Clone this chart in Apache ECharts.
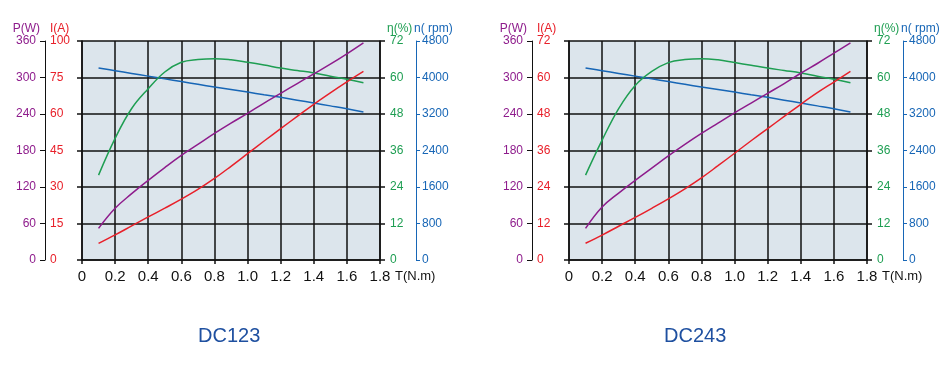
<!DOCTYPE html>
<html><head><meta charset="utf-8">
<script src="https://cdn.jsdelivr.net/npm/echarts@6/dist/echarts.min.js"></script>
<style>html,body{margin:0;padding:0;background:#fff}#c{width:950px;height:388px}</style>
</head><body><div id="c"></div>
<script>
// ---- data ----
const titles = ['DC123', 'DC243'];
const xName = 'T(N.m)';
const torque = [0.1, 0.2, 0.3, 0.4, 0.5, 0.6, 0.7, 0.8, 0.9, 1.0, 1.1, 1.2, 1.3, 1.4, 1.5, 1.6, 1.7];
const xLabels = ['0', '0.2', '0.4', '0.6', '0.8', '1.0', '1.2', '1.4', '1.6', '1.8'];
const pLabels = ['0', '60', '120', '180', '240', '300', '360'];
const etaLabels = ['0', '12', '24', '36', '48', '60', '72'];
const nLabels = ['0', '800', '1600', '2400', '3200', '4000', '4800'];
const iLabelsA = ['0', '15', '30', '45', '60', '75', '100'];
const iLabelsB = ['0', '12', '24', '36', '48', '60', '72'];

// DC123
const powerA = [52, 85, 109, 131, 152, 172, 190, 208, 225, 241, 258, 274, 290, 306, 322, 339, 357];
const currentA = [6.8, 10.3, 14.0, 17.7, 21.3, 25.0, 29.0, 33.5, 38.5, 43.7, 48.9, 54.0, 59.0, 64.0, 68.7, 73.2, 77.5];
const effA = [27.9, 40.0, 49.8, 56.3, 61.8, 65.0, 65.9, 66.2, 65.8, 65.0, 64.1, 63.1, 62.3, 61.5, 60.4, 59.4, 58.3];
const speedA = [4210, 4150, 4090, 4030, 3970, 3910, 3850, 3790, 3735, 3680, 3622, 3565, 3503, 3440, 3378, 3315, 3246];
// DC243
const powerB = [52, 87, 110, 131, 151, 171, 190, 208, 225, 242, 258, 274, 290, 307, 323, 340, 357];
const currentB = [5.5, 8.2, 11.1, 14.0, 17.0, 20.1, 23.4, 27.0, 31.0, 35.1, 39.2, 43.2, 47.2, 51.2, 55.0, 58.5, 62.0];
const effB = [27.9, 39.4, 49.8, 57.4, 62.0, 64.9, 65.9, 66.2, 65.8, 64.9, 64.0, 63.1, 62.3, 61.5, 60.4, 59.4, 58.3];
const speedB = [4210, 4150, 4090, 4030, 3970, 3910, 3850, 3790, 3735, 3680, 3622, 3565, 3503, 3440, 3378, 3315, 3246];

// ---- styles ----
const FONT = "'Liberation Sans', Arial, Helvetica, sans-serif";
const BLACK = '#111';
const PURPLE = '#8e1c8c';
const RED = '#e8202a';
const GREEN = '#1e9e52';
const BLUE = '#1766b6';
const TITLE = '#1f50a0';

const charts = [
  {left: 82, iLabels: iLabelsA, iMax: 90, iStep: 15, P: powerA, I: currentA, E: effA, N: speedA},
  {left: 569, iLabels: iLabelsB, iMax: 72, iStep: 12, P: powerB, I: currentB, E: effB, N: speedB}
];

const grid = [], xAxis = [], yAxis = [], series = [], title = [], graphic = [];
charts.forEach((c, k) => {
  grid.push({left: c.left, top: 41, width: 298, height: 219, show: true,
    backgroundColor: '#dce5ec', borderWidth: 0});
  const lineBlack = {color: BLACK, width: 1.5};
  xAxis.push({
    gridIndex: k, type: 'value', min: 0, max: 1.8, interval: 0.2,
    axisLine: {show: true, lineStyle: lineBlack},
    axisTick: {show: true, length: 4, lineStyle: lineBlack},
    axisLabel: {color: BLACK, fontSize: 15, margin: 9, fontFamily: FONT,
      formatter: v => xLabels[Math.round(v / 0.2)]},
    splitLine: {show: true, lineStyle: lineBlack}
  });
  graphic.push({type: 'text', left: c.left + 313, top: 270,
    style: {text: xName, fill: BLACK, font: '13px ' + FONT}});
  // frame (plot left border + horizontal grid)
  yAxis.push({
    gridIndex: k, type: 'value', min: 0, max: 360, interval: 60, position: 'left', offset: 0,
    axisLine: {show: true, lineStyle: lineBlack},
    axisTick: {show: true, length: 5, lineStyle: lineBlack},
    axisLabel: {show: false},
    splitLine: {show: true, lineStyle: lineBlack}
  });
  // P(W)
  yAxis.push({
    gridIndex: k, type: 'value', min: 0, max: 360, interval: 60, position: 'left', offset: 37,
    axisLine: {show: true, lineStyle: {color: BLACK, width: 1}},
    axisTick: {show: true, length: 5, lineStyle: {color: BLACK, width: 1}},
    axisLabel: {color: PURPLE, fontSize: 12, margin: 9, fontFamily: FONT,
      formatter: v => pLabels[Math.round(v / 60)]},
    splitLine: {show: false},
    name: 'P(W)', nameLocation: 'end', nameGap: 6,
    nameTextStyle: {color: PURPLE, fontSize: 12, fontFamily: FONT, align: 'right', padding: [0, 5, 0, 0]}
  });
  // I(A)
  yAxis.push({
    gridIndex: k, type: 'value', min: 0, max: c.iMax, interval: c.iStep, position: 'left', offset: 37,
    axisLine: {show: false}, axisTick: {show: false},
    axisLabel: {inside: true, color: RED, fontSize: 12, margin: 5, fontFamily: FONT,
      formatter: v => c.iLabels[Math.round(v / c.iStep)]},
    splitLine: {show: false},
    name: 'I(A)', nameLocation: 'end', nameGap: 6,
    nameTextStyle: {color: RED, fontSize: 12, fontFamily: FONT, align: 'left', padding: [0, 0, 0, 5]}
  });
  // eta(%)
  yAxis.push({
    gridIndex: k, type: 'value', min: 0, max: 72, interval: 12, position: 'right', offset: 0,
    axisLine: {show: true, lineStyle: lineBlack},
    axisTick: {show: true, length: 5, lineStyle: lineBlack},
    axisLabel: {color: GREEN, fontSize: 12, margin: 10, fontFamily: FONT,
      formatter: v => etaLabels[Math.round(v / 12)]},
    splitLine: {show: false},
    name: 'η(%)', nameLocation: 'end', nameGap: 6,
    nameTextStyle: {color: GREEN, fontSize: 12, fontFamily: FONT, align: 'left', padding: [0, 0, 0, 7]}
  });
  // n(rpm)
  yAxis.push({
    gridIndex: k, type: 'value', min: 0, max: 4800, interval: 800, position: 'right', offset: 36,
    axisLine: {show: true, lineStyle: {color: BLUE, width: 1}},
    axisTick: {show: true, length: 4, lineStyle: {color: BLUE, width: 1}},
    axisLabel: {color: BLUE, fontSize: 12, margin: 6, fontFamily: FONT,
      formatter: v => nLabels[Math.round(v / 800)]},
    splitLine: {show: false},
    name: 'n( rpm)', nameLocation: 'end', nameGap: 6,
    nameTextStyle: {color: BLUE, fontSize: 12, fontFamily: FONT, align: 'left', padding: [0, 0, 0, -2]}
  });
  const base = k * 5;
  const mk = (arr, yi, color) => ({
    type: 'line', xAxisIndex: k, yAxisIndex: base + yi, smooth: 0.4, showSymbol: false,
    lineStyle: {color: color, width: 1.5}, itemStyle: {color: color},
    data: torque.map((t, i) => [t, arr[i]]), z: 5
  });
  series.push(mk(c.N, 4, BLUE), mk(c.E, 3, GREEN), mk(c.P, 1, PURPLE), mk(c.I, 2, RED));
  title.push({text: titles[k], left: k === 0 ? 198 : 664, top: 326, padding: 0,
    textStyle: {color: TITLE, fontSize: 20, fontWeight: 'normal', fontFamily: FONT}});
});

const chart = echarts.init(document.getElementById('c'), null, {renderer: 'canvas'});
chart.setOption({animation: false, backgroundColor: '#fff', title, grid, xAxis, yAxis, series, graphic});
</script>
</body></html>
